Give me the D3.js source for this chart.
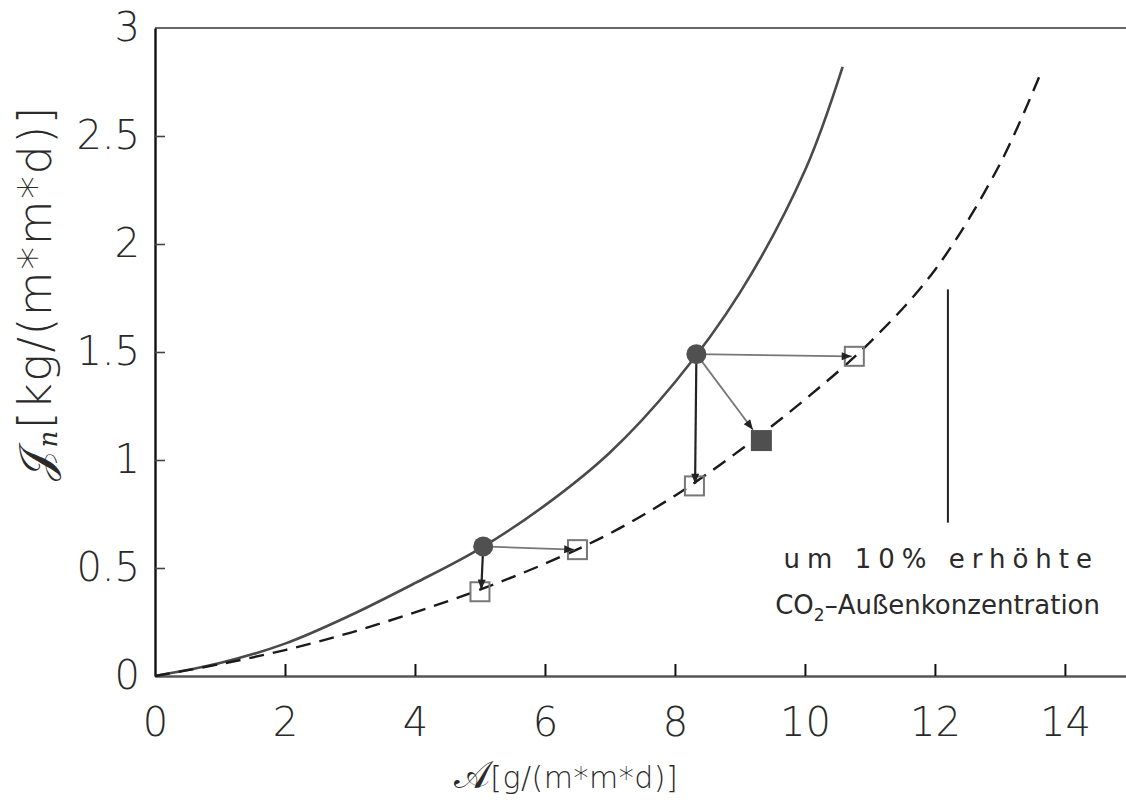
<!DOCTYPE html>
<html>
<head>
<meta charset="utf-8">
<script src="https://cdn.jsdelivr.net/npm/d3@7"></script>
<style>
body { margin: 0; background: #fff; }
svg { display: block; }
text { font-family: "DejaVu Sans", sans-serif; fill: #2a2a2a; }
</style>
</head>
<body>
<div id="chart"></div>
<script>
// values
var xTicks = [0, 2, 4, 6, 8, 10, 12, 14];
var yTicks = [0, 0.5, 1, 1.5, 2, 2.5, 3];

// solid curve
var solidX = [0, 1, 2, 3, 4, 5, 6, 7, 8, 9, 10, 10.58];
var solidY = [0, 0.06, 0.15, 0.28, 0.43, 0.59, 0.79, 1.035, 1.36, 1.775, 2.34, 2.82];

// dashed curve (10% higher CO2)
var dashX = [0, 1, 2, 3, 4, 5, 6, 7, 8, 9, 10, 11, 12, 13, 13.64];
var dashY = [0, 0.055, 0.12, 0.2, 0.295, 0.4, 0.52, 0.66, 0.835, 1.045, 1.28, 1.545, 1.88, 2.37, 2.8];

// markers
var circleX = [5.05, 8.33];
var circleY = [0.6, 1.49];
var openSqX = [5.0, 6.5, 8.3, 10.76];
var openSqY = [0.39, 0.585, 0.88, 1.48];
var fullSqX = [9.33];
var fullSqY = [1.09];

// arrows from the circles
var arrowX1 = [5.05, 5.05, 8.33, 8.33, 8.33];
var arrowY1 = [0.6, 0.6, 1.49, 1.49, 1.49];
var arrowX2 = [6.45, 5.02, 10.72, 8.31, 9.2];
var arrowY2 = [0.585, 0.4, 1.48, 0.89, 1.14];

// vertical mark line
var markX = [12.2, 12.2];
var markY = [0.71, 1.79];

var annoLines = ["um  10% erhöhte", "CO"];

var W = 1126, H = 802;
var margin = {top: 28, left: 155, bottom: 126, right: 0};

var svg = d3.select("#chart")
  .append("svg")
    .attr("width", W)
    .attr("height", H);

var x = d3.scaleLinear()
  .domain([0, 14.94])
  .range([margin.left, W - margin.right]);

var y = d3.scaleLinear()
  .domain([0, 3])
  .range([H - margin.bottom, margin.top]);

// arrow head
svg.append("defs").append("marker")
    .attr("id", "head")
    .attr("viewBox", "0 -5 10 10")
    .attr("refX", 10)
    .attr("refY", 0)
    .attr("markerUnits", "userSpaceOnUse")
    .attr("markerWidth", 12)
    .attr("markerHeight", 10)
    .attr("orient", "auto")
  .append("path")
    .attr("d", "M0,-4L10,0L0,4Z")
    .attr("fill", "#222");

// top frame line
svg.append("line")
  .attr("x1", x(0)).attr("x2", W)
  .attr("y1", y(3)).attr("y2", y(3))
  .attr("stroke", "#666").attr("stroke-width", 2.2);

// X axis
var xAxis = svg.append("g")
  .attr("transform", "translate(0," + y(0) + ")")
  .call(d3.axisBottom(x)
    .tickValues(xTicks)
    .tickFormat(function(d) { return d; })
    .tickSizeInner(-12)
    .tickSizeOuter(0)
    .tickPadding(32));
xAxis.select(".domain").attr("stroke", "#555").attr("stroke-width", 2.6);
xAxis.selectAll(".tick line").attr("stroke", "#111").attr("stroke-width", 2)
  .filter(function(d) { return d === 0; }).remove();
xAxis.selectAll(".tick text")
  .style("font-family", "'DejaVu Sans', sans-serif")
  .style("font-size", "40px")
  .style("font-weight", 300)
  .attr("fill", "#2a2a2a");

// Y axis
var yAxis = svg.append("g")
  .attr("transform", "translate(" + x(0) + ",0)")
  .call(d3.axisLeft(y)
    .tickValues(yTicks)
    .tickFormat(function(d) { return d; })
    .tickSizeInner(-10)
    .tickSizeOuter(0)
    .tickPadding(15));
yAxis.select(".domain").attr("stroke", "#111").attr("stroke-width", 2.4);
yAxis.selectAll(".tick line").attr("stroke", "#444").attr("stroke-width", 1.6)
  .filter(function(d) { return d === 0 || d === 3; }).remove();
yAxis.selectAll(".tick text")
  .style("font-family", "'DejaVu Sans', sans-serif")
  .style("font-size", "40px")
  .style("font-weight", 300)
  .attr("fill", "#2a2a2a");

// curves
var line = d3.line()
  .x(function(d) { return x(d[0]); })
  .y(function(d) { return y(d[1]); })
  .curve(d3.curveCatmullRom.alpha(0.5));

svg.append("path")
  .datum(d3.zip(solidX, solidY))
  .attr("d", line)
  .attr("fill", "none")
  .attr("stroke", "#4a4a4a")
  .attr("stroke-width", 2.6);

svg.append("path")
  .datum(d3.zip(dashX, dashY))
  .attr("d", line)
  .attr("fill", "none")
  .attr("stroke", "#1a1a1a")
  .attr("stroke-width", 2.4)
  .attr("stroke-dasharray", "15,9");

// vertical mark
svg.append("line")
  .attr("x1", x(markX[0])).attr("x2", x(markX[1]))
  .attr("y1", y(markY[0])).attr("y2", y(markY[1]))
  .attr("stroke", "#222").attr("stroke-width", 2);

// open squares
var sq = 19;
svg.append("g")
  .selectAll("rect")
  .data(d3.zip(openSqX, openSqY))
  .enter()
  .append("rect")
    .attr("x", function(d) { return x(d[0]) - sq / 2; })
    .attr("y", function(d) { return y(d[1]) - sq / 2; })
    .attr("width", sq)
    .attr("height", sq)
    .attr("fill", "none")
    .attr("stroke", "#777")
    .attr("stroke-width", 2);

// filled square
var fsq = 21;
svg.append("g")
  .selectAll("rect")
  .data(d3.zip(fullSqX, fullSqY))
  .enter()
  .append("rect")
    .attr("x", function(d) { return x(d[0]) - fsq / 2; })
    .attr("y", function(d) { return y(d[1]) - fsq / 2; })
    .attr("width", fsq)
    .attr("height", fsq)
    .attr("fill", "#4f4f4f");

// arrows
svg.append("g")
  .selectAll("line")
  .data(d3.range(arrowX1.length))
  .enter()
  .append("line")
    .attr("x1", function(i) { return x(arrowX1[i]); })
    .attr("y1", function(i) { return y(arrowY1[i]); })
    .attr("x2", function(i) { return x(arrowX2[i]); })
    .attr("y2", function(i) { return y(arrowY2[i]); })
    .attr("stroke", function(i) { return (i === 1 || i === 3) ? "#222" : "#777"; })
    .attr("stroke-width", function(i) { return (i === 1 || i === 3) ? 2.2 : 1.8; })
    .attr("marker-end", "url(#head)");

// filled circles
svg.append("g")
  .selectAll("circle")
  .data(d3.zip(circleX, circleY))
  .enter()
  .append("circle")
    .attr("cx", function(d) { return x(d[0]); })
    .attr("cy", function(d) { return y(d[1]); })
    .attr("r", 10)
    .attr("fill", "#505050");

// annotation
var anno = svg.append("g")
  .attr("text-anchor", "end")
  .style("font-size", "26px");
anno.append("text")
  .attr("x", 1099).attr("y", 568)
  .style("letter-spacing", "7px")
  .text(annoLines[0]);
var l2 = anno.append("text")
  .attr("x", 1100).attr("y", 614);
l2.append("tspan").text(annoLines[1]);
l2.append("tspan").attr("dy", 7).style("font-size", "17px").text("2");
l2.append("tspan").attr("dy", -7).text("–Außenkonzentration");

// axis titles
var yt = svg.append("text")
  .attr("transform", "translate(51,293) rotate(-90)")
  .attr("text-anchor", "middle")
  .style("font-size", "46px")
  .style("font-weight", 300)
  .style("letter-spacing", "1.5px");
yt.append("tspan").style("font-family", "'DejaVu Serif', serif").text("𝒥");
yt.append("tspan").attr("dy", 6).style("font-size", "26px").style("font-family", "'DejaVu Serif', serif").style("font-style", "italic").text("n");
yt.append("tspan").attr("dy", -6).text("[kg/(m*m*d)]");

var xt = svg.append("text")
  .attr("x", 566).attr("y", 788)
  .attr("text-anchor", "middle")
  .style("font-size", "30px")
  .style("font-weight", 300)
  .style("letter-spacing", "0.5px");
xt.append("tspan").style("font-family", "'DejaVu Serif', serif").style("font-size", "38px").text("𝒜");
xt.append("tspan").text("[g/(m*m*d)]");
</script>
</body>
</html>
